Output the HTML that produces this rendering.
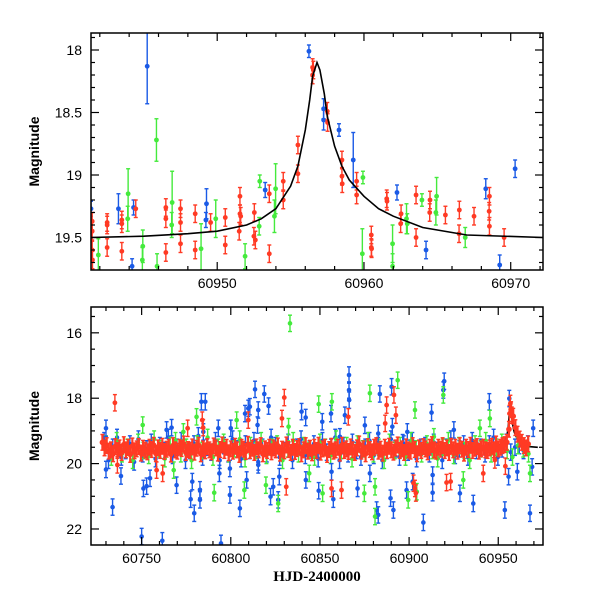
<!DOCTYPE html>
<html><head><meta charset="utf-8"><style>
html,body{margin:0;padding:0;background:#fff;}
svg{display:block;font-family:"Liberation Sans",sans-serif;}
</style></head><body>
<svg id="chart" width="600" height="600" viewBox="0 0 600 600" xmlns="http://www.w3.org/2000/svg"></svg>
<script>
// ---------- TOP PANEL DATA ----------
const topBlueT=[60945.23,60956.25,60957.25,60957.25,60958.3,60959.27,60943.27,60944.3,60949.27,60949.23,60953.27,60962.25,60964.23,60968.3,60969.25,60970.3,60941.4,60944.2];
const topBlueM=[18.13,18.01,18.47,18.56,18.64,18.88,19.27,19.26,19.23,19.36,19.12,19.14,19.6,19.11,19.72,18.95,19.27,19.73];
const topBlueE=[0.3,0.05,0.08,0.08,0.05,0.22,0.12,0.06,0.12,0.06,0.06,0.06,0.07,0.08,0.08,0.07,0.06,0.06];
const topGreenT=[60945.86,60943.93,60943.9,60941.9,60944.93,60944.9,60945.9,60946.93,60946.9,60948.9,60949.9,60952.9,60952.86,60953.98,60953.9,60951.9,60959.89,60959.93,60961.95,60961.95,60962.9,60962.95,60963.95,60964.95,60964.9,60966.9];
const topGreenM=[18.72,19.15,19.35,19.64,19.57,19.68,19.73,19.22,19.4,19.59,19.35,19.05,19.41,19.11,19.33,19.65,19.63,19.02,19.55,19.73,19.35,19.39,19.2,19.17,19.3,19.5];
const topGreenE=[0.17,0.2,0.1,0.13,0.13,0.1,0.1,0.25,0.1,0.2,0.15,0.05,0.07,0.2,0.13,0.1,0.2,0.05,0.15,0.1,0.12,0.08,0.05,0.15,0.1,0.08];
const topRedT=[60941.48,60941.48,60941.48,60941.5,60942.5,60942.5,60942.5,60943.5,60943.5,60943.5,60944.45,60946.5,60946.5,60946.5,60947.5,60947.5,60947.5,60948.5,60948.5,60949.55,60950.55,60950.55,60951.55,60951.55,60951.6,60951.5,60952.53,60952.5,60952.6,60953.55,60953.55,60954.5,60954.5,60955.5,60955.5,60956.5,60956.55,60956.5,60957.5,60957.52,60958.5,60958.5,60958.52,60959.5,60959.5,60960.5,60960.52,60960.5,60961.55,60961.57,60962.53,60962.5,60963.55,60963.55,60964.5,60964.48,60965.55,60966.5,60966.48,60967.5,60968.55,60968.53,60968.55,60969.55];
const topRedM=[19.37,19.45,19.6,19.68,19.38,19.4,19.58,19.36,19.39,19.61,19.27,19.26,19.35,19.62,19.27,19.38,19.55,19.31,19.6,19.38,19.34,19.56,19.17,19.31,19.33,19.45,19.3,19.49,19.52,19.15,19.63,19.05,19.2,18.76,18.99,18.14,18.16,18.2,18.49,18.58,18.88,19.01,19.07,19.05,19.16,19.48,19.59,19.58,19.19,19.21,19.31,19.39,19.16,19.5,19.2,19.3,19.32,19.28,19.47,19.33,19.17,19.29,19.41,19.5];
// ---------- MODEL CURVE ----------
const modelT=[60941.4,60945,60948,60950,60952,60953,60954,60955,60955.5,60956,60956.3,60956.5,60956.8,60957,60957.3,60957.5,60958,60958.5,60959,60960,60961,60962,60964,60967,60972.2];
const modelM=[19.5,19.49,19.47,19.45,19.4,19.35,19.27,19.09,18.93,18.64,18.4,18.21,18.1,18.16,18.35,18.53,18.77,18.93,19.04,19.17,19.27,19.33,19.42,19.48,19.5];
// ---------- BOTTOM PANEL DATA ----------
const botBlueT=[60730,60730,60733.7,60738.4,60750,60751,60752.8,60754.7,60761.6,60764,60766.8,60769.6,60777.5,60779.5,60778.4,60782.7,60782.7,60783.5,60785.7,60784.6,60793,60793.6,60794.5,60799.5,60800,60799.5,60805.1,60808,60809.8,60810.7,60808.9,60813.6,60815.4,60815,60815.4,60818.8,60821.2,60822.3,60823.8,60826.6,60827.2,60839.7,60842,60842.1,60849.3,60851.3,60856.2,60857.5,60856.5,60861.2,60864,60866.3,60866.3,60866.4,60871.1,60875.2,60878,60881.8,60882.7,60882.7,60883.6,60889.6,60890.2,60890.6,60891.2,60896.4,60898.6,60899,60902,60908,60912.6,60913.2,60913.2,60919.7,60919.2,60925.1,60928.5,60936,60945,60953.7,60955.8,60956.2,60960.7,60967.8,60969,60969.6];
const botBlueM=[18.92,20.18,21.33,20.38,22.23,20.76,20.69,20.45,22.36,18.97,18.9,20.66,21.09,21.52,20.55,21.11,20.8,18.11,18.11,19.03,18.92,20.3,22.44,20.96,18.92,20.15,21.37,18.47,18.31,18.26,20.5,17.73,18.36,18.82,20.04,17.87,18.24,21.01,20.71,21.11,20.4,18.41,18.59,20.5,20.83,18.72,18.47,21.09,20.25,19.18,18.52,17.29,17.75,18.06,20.76,18.83,20.3,21.42,21.57,19.08,17.87,21.06,17.65,18.87,21.42,19.36,20.81,19.03,20.55,21.8,18.44,20.89,20.35,17.48,17.75,18.97,20.91,21.22,18.11,21.42,20.4,18.01,20.25,21.52,20.1,18.92];
const botGreenT=[60833.2,60893.6,60878,60849.3,60856.7,60919.2,60790.7,60803.3,60807.6,60819.7,60826.6,60832.4,60844,60851.5,60874.9,60880.9,60880.9,60904.3,60899.5,60930.4,60945.3,60939.7,60967.8,60768,60780.8,60750.6,60773.4,60903.3,60913.9];
const botGreenM=[15.71,17.45,17.85,18.18,18.11,17.9,20.89,18.67,20.81,20.66,21.22,18.87,20.3,20.91,20.91,21.62,20.71,20.86,21.11,20.5,18.62,18.92,20.3,20.2,18.57,18.82,19.03,18.36,19.18];
const botRedT=[60735,60830,60828.7,60784,60775.8,60887.4,60891.5,60886.6,60892.6,60865.9,60831.1,60856.5,60862.1,60903.3,60921,60923.3,60954,60956.3,60956.8,60957.6,60736.4,60758.4,60761.8,60941.6,60809.8,60948.1,60784.5,60902.5,60903.8];
const botRedM=[18.14,17.98,18.62,18.67,18.92,18.21,17.9,18.77,18.52,18.57,20.71,20.76,20.81,20.76,20.58,20.55,20.08,18.47,18.16,18.52,20.04,20.2,20.3,20.3,18.67,19.89,18.9,20.6,20.9];
// dense baseline bands (nightly cadence)
const redBandStart=60728, redBandStep=1.2;
const redBandM=[19.35,19.52,19.45,19.62,19.58,19.7,19.48,19.6,19.52,19.66,19.42,19.58,19.5,19.72,19.46,19.61,19.55,19.48,19.68,19.53,
19.59,19.64,19.5,19.57,19.44,19.69,19.52,19.6,19.47,19.63,19.56,19.5,19.71,19.45,19.58,19.62,19.5,19.54,19.4,19.66,
19.57,19.6,19.49,19.65,19.53,19.44,19.7,19.55,19.61,19.48,19.58,19.64,19.46,19.52,19.68,19.57,19.43,19.6,19.5,19.67,
19.55,19.62,19.47,19.58,19.72,19.5,19.56,19.63,19.41,19.6,19.53,19.66,19.49,19.58,19.45,19.7,19.55,19.6,19.5,19.64,
19.52,19.58,19.46,19.68,19.56,19.61,19.43,19.57,19.66,19.5,19.63,19.54,19.48,19.7,19.58,19.45,19.62,19.53,19.67,19.5,
19.6,19.44,19.65,19.55,19.5,19.72,19.57,19.47,19.62,19.58,19.5,19.68,19.44,19.6,19.55,19.63,19.49,19.58,19.66,19.52,
19.4,19.62,19.55,19.7,19.48,19.57,19.64,19.5,19.45,19.62,19.56,19.68,19.5,19.6,19.47,19.58,19.65,19.52,19.43,19.6,
19.55,19.66,19.49,19.58,19.62,19.45,19.57,19.7,19.52,19.6,19.48,19.55,19.64,19.5,19.42,19.58,19.62,19.5,19.56,19.45,
19.6,19.52,19.66,19.47,19.58,19.5,19.62,19.45,19.56,19.68,19.5,19.57,19.44,19.6,19.53,19.48,19.62,19.55,19.5,19.58,
19.6,19.52,19.47,19.58,19.4,19.55,19.5,19.45,19.42,19.35,18.95,18.35,18.55,18.9,19.1,19.25,19.35,19.45,19.52,19.4];
const blueBandStart=60729, blueBandStep=2.4;
const blueBandM=[19.3,19.9,19.5,19.2,19.8,19.6,19.4,19.95,19.25,19.7,19.55,19.35,19.85,19.45,19.6,19.2,19.75,19.5,19.3,19.9,
19.6,19.4,19.15,19.8,19.5,19.65,19.3,19.9,19.45,19.7,19.25,19.55,19.85,19.4,19.6,19.3,19.95,19.5,19.7,19.2,
19.45,19.8,19.6,19.35,19.9,19.5,19.25,19.75,19.55,19.4,19.85,19.3,19.65,19.5,19.2,19.9,19.45,19.7,19.35,19.6,
19.8,19.5,19.3,19.75,19.45,19.9,19.6,19.25,19.55,19.8,19.4,19.65,19.3,19.85,19.5,19.45,19.7,19.35,19.6,19.9,
19.5,19.25,19.75,19.55,19.4,19.8,19.3,19.6,19.5,19.7,19.4,19.2,19.8,19.55,19.35,19.65,19.5,19.45,19.6,19.4];
const greenBandStart=60730, greenBandStep=3;
const greenBandM=[19.4,19.8,19.3,19.7,19.5,19.9,19.35,19.6,19.75,19.25,19.55,19.85,19.45,19.3,19.7,19.5,19.9,19.4,19.6,19.2,
19.8,19.5,19.35,19.7,19.55,19.25,19.85,19.45,19.6,19.3,19.75,19.5,19.4,19.9,19.55,19.3,19.7,19.45,19.6,19.8,
19.35,19.5,19.75,19.25,19.6,19.45,19.85,19.4,19.55,19.3,19.7,19.5,19.9,19.35,19.6,19.45,19.8,19.3,19.55,19.7,
19.4,19.6,19.85,19.5,19.3,19.75,19.45,19.6,19.9,19.4,19.55,19.3,19.7,19.5,19.35,19.6,19.8,19.45,19.55,19.7];

const RED="#ff3a24", BLUE="#1a5ae6", GREEN="#44ea3c";
const NS="http://www.w3.org/2000/svg";
const svg=document.getElementById('chart');
function mk(tag,attrs,parent){const e=document.createElementNS(NS,tag);for(const k in attrs)e.setAttribute(k,attrs[k]);(parent||svg).appendChild(e);return e;}

function panel(cfg){
  const g=mk('g',{});
  
  
  const sx=v=>cfg.x0+(v-cfg.t0)/(cfg.t1-cfg.t0)*(cfg.x1-cfg.x0);
  const sy=v=>cfg.y0+(v-cfg.m0)/(cfg.m1-cfg.m0)*(cfg.y1-cfg.y0);
  const clip='clip-'+cfg.name;
  const cp=mk('clipPath',{id:clip},g);
  mk('rect',{x:cfg.x0,y:cfg.y0,width:cfg.x1-cfg.x0,height:cfg.y1-cfg.y0},cp);
  const plot=mk('g',{'clip-path':'url(#'+clip+')'},g);
  
  
  function series(T,M,E,col,r,sname,defE,sw){
    const w=sw||1.4;
    const sg=mk('g',{},plot);
    
    
    for(let i=0;i<T.length;i++){
      const x=sx(T[i]),y=sy(M[i]);const e=E?E[i]:defE;
      const ya=sy(M[i]-e),yb=sy(M[i]+e);
      mk('line',{x1:x,y1:ya,x2:x,y2:yb,stroke:col,'stroke-width':w},sg);
      mk('line',{x1:x-2,y1:ya,x2:x+2,y2:ya,stroke:col,'stroke-width':1.4},sg);
      mk('line',{x1:x-2,y1:yb,x2:x+2,y2:yb,stroke:col,'stroke-width':1.4},sg);
      const c=mk('circle',{cx:x,cy:y,r:r,fill:col},sg);
      
      
    }
  }
  function model(){
    const pts=modelT.map((t,i)=>sx(t).toFixed(1)+','+sy(modelM[i]).toFixed(1)).join(' ');
    const ml=mk('polyline',{points:pts,fill:'none',stroke:'#000','stroke-width':1.6},plot);
    
    
  }
  if(cfg.modelFirst) model();
  cfg.draw(series,sx,sy,plot);
  if(!cfg.modelFirst) model();
  const fr=mk('rect',{x:cfg.x0,y:cfg.y0,width:cfg.x1-cfg.x0,height:cfg.y1-cfg.y0,fill:'none',stroke:'#000','stroke-width':1.5},g);
  
  
  for(let v=Math.ceil(cfg.t0/cfg.xmin)*cfg.xmin;v<=cfg.t1;v+=cfg.xmin){
    const x=sx(v);const maj=Math.abs(v/cfg.xmaj-Math.round(v/cfg.xmaj))<1e-6;const L=maj?8:4;
    mk('line',{x1:x,y1:cfg.y1,x2:x,y2:cfg.y1-L,stroke:'#000','stroke-width':1.2},g);
    mk('line',{x1:x,y1:cfg.y0,x2:x,y2:cfg.y0+L,stroke:'#000','stroke-width':1.2},g);
    if(maj){const t=mk('text',{x:x,y:cfg.y1+18,'text-anchor':'middle','font-size':14,fill:'#000'},g);t.textContent=Math.round(v);
      }
  }
  for(let k=Math.ceil(cfg.m0/cfg.ymin-1e-6);k*cfg.ymin<=cfg.m1+1e-6;k++){
    const v=k*cfg.ymin;const y=sy(v);const maj=Math.abs(v/cfg.ymaj-Math.round(v/cfg.ymaj))<1e-6;const L=maj?8:4;
    mk('line',{x1:cfg.x0,y1:y,x2:cfg.x0+L,y2:y,stroke:'#000','stroke-width':1.2},g);
    mk('line',{x1:cfg.x1,y1:y,x2:cfg.x1-L,y2:y,stroke:'#000','stroke-width':1.2},g);
    if(maj){const t=mk('text',{x:cfg.x0-9,y:y+5,'text-anchor':'end','font-size':14,fill:'#000'},g);
      t.textContent=(Math.round(v*10)/10).toString();
      }
  }
  const yt=mk('text',{x:0,y:0,transform:'translate('+(cfg.x0-52)+','+((cfg.y0+cfg.y1)/2)+') rotate(-90)','text-anchor':'middle','font-size':14,'font-weight':'bold',fill:'#000'},g);
  yt.textContent='Magnitude';
  
}

panel({name:'top-panel',x0:91,x1:543,y0:33,y1:270,t0:60941.4,t1:60972.2,m0:17.864,m1:19.76,xmin:2,xmaj:10,ymin:0.1,ymaj:0.5,
 draw:(series)=>{
   series(topGreenT,topGreenM,topGreenE,GREEN,2.4,'green-series');
   series(topBlueT,topBlueM,topBlueE,BLUE,2.4,'blue-series');
   series(topRedT,topRedM,null,RED,2.4,'red-series',0.07);
 }});

panel({name:'bottom-panel',modelFirst:true,x0:91,x1:543,y0:307,y1:545,t0:60721.6,t1:60975.1,m0:15.21,m1:22.49,xmin:10,xmaj:50,ymin:0.5,ymaj:2,
 draw:(series)=>{
   const bt=blueBandM.map((m,i)=>blueBandStart+i*blueBandStep);
   const gt=greenBandM.map((m,i)=>greenBandStart+i*greenBandStep);
   const rt=redBandM.map((m,i)=>redBandStart+i*redBandStep);
   series(bt,blueBandM,null,BLUE,2.2,'blue-band',0.25);
   series(gt,greenBandM,null,GREEN,2.2,'green-band',0.25);
   series(botBlueT,botBlueM,null,BLUE,2.3,'blue-outliers',0.25);
   series(botGreenT,botGreenM,null,GREEN,2.3,'green-outliers',0.25);
   series(rt,redBandM,null,RED,2.8,'red-band',0.24,2.2);
   series(botRedT,botRedM,null,RED,2.4,'red-outliers',0.25);
 }});

const xt=mk('text',{x:317,y:581,'text-anchor':'middle','font-size':15,'font-weight':'bold','font-family':'"Liberation Serif",serif',fill:'#000'});
xt.textContent='HJD-2400000';


</script>
</body></html>
